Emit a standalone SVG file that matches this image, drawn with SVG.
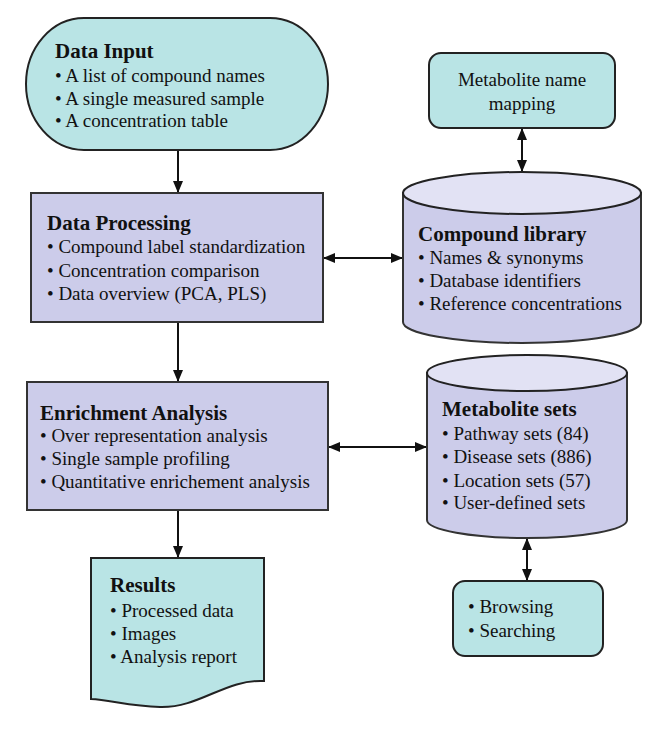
<svg xmlns="http://www.w3.org/2000/svg" width="646" height="730" viewBox="0 0 646 730">
<style>
text{font-family:"Liberation Serif","Times New Roman",serif;font-size:19px;fill:#111}
.b{font-weight:bold;font-size:21px}
.teal{fill:#b9e4e5;stroke:#222;stroke-width:2}
.lav{fill:#ccccea;stroke:#333;stroke-width:2}
.top{fill:#e2e2f4;stroke:#222;stroke-width:2}
.c{stroke:#111;stroke-width:2;fill:none}
</style>
<defs>
<marker id="ah" viewBox="0 0 12 10" refX="11" refY="5" markerWidth="12" markerHeight="10" markerUnits="userSpaceOnUse" orient="auto-start-reverse">
<path d="M0,0 L12,5 L0,10 Z" fill="#111"/>
</marker>
</defs>
<rect width="646" height="730" fill="#fff"/>
<g id="connectors">
<line class="c" x1="178" y1="151" x2="178" y2="192" marker-end="url(#ah)"/>
<line class="c" x1="178" y1="323" x2="178" y2="381" marker-end="url(#ah)"/>
<line class="c" x1="178" y1="511" x2="178" y2="557" marker-end="url(#ah)"/>
<line class="c" x1="522" y1="129" x2="522" y2="171" marker-start="url(#ah)" marker-end="url(#ah)"/>
<line class="c" x1="324" y1="258" x2="402" y2="258" marker-start="url(#ah)" marker-end="url(#ah)"/>
<line class="c" x1="329" y1="447" x2="426" y2="447" marker-start="url(#ah)" marker-end="url(#ah)"/>
<line class="c" x1="527" y1="539" x2="527" y2="580" marker-start="url(#ah)" marker-end="url(#ah)"/>
</g>
<g id="data-input">
<rect class="teal" x="26" y="18" width="302" height="132" rx="58" ry="66"/>
<text class="b" x="55" y="58">Data Input</text>
<text x="55" y="82">• A list of compound names</text>
<text x="55" y="105">• A single measured sample</text>
<text x="55" y="127">• A concentration table</text>
</g>
<g id="data-processing">
<rect class="lav" x="31" y="193" width="292" height="129"/>
<text class="b" x="47" y="230">Data Processing</text>
<text x="47" y="253">• Compound label standardization</text>
<text x="47" y="277">• Concentration comparison</text>
<text x="47" y="300">• Data overview (PCA, PLS)</text>
</g>
<g id="enrichment-analysis">
<rect class="lav" x="27" y="382" width="301" height="128"/>
<text class="b" x="40" y="420">Enrichment Analysis</text>
<text x="40" y="442">• Over representation analysis</text>
<text x="40" y="465">• Single sample profiling</text>
<text x="40" y="488">• Quantitative enrichement analysis</text>
</g>
<g id="results">
<path class="teal" d="M91,558 H264 V681 C225,679 200,708 160,707 C130,706 110,700 91,699 Z"/>
<text class="b" x="110" y="592">Results</text>
<text x="110" y="617">• Processed data</text>
<text x="110" y="640">• Images</text>
<text x="110" y="663">• Analysis report</text>
</g>
<g id="metabolite-name-mapping">
<rect class="teal" x="429" y="53" width="186" height="75" rx="12"/>
<text x="522" y="86" text-anchor="middle">Metabolite name</text>
<text x="522" y="110" text-anchor="middle">mapping</text>
</g>
<g id="compound-library">
<path class="lav" d="M403,193 V322 A119,21 0 0 0 641,322 V193 Z"/>
<ellipse class="top" cx="522" cy="193" rx="119" ry="21"/>
<text class="b" x="418" y="241">Compound library</text>
<text x="418" y="264">• Names &amp; synonyms</text>
<text x="418" y="287">• Database  identifiers</text>
<text x="418" y="310">• Reference concentrations</text>
</g>
<g id="metabolite-sets">
<path class="lav" d="M427,373 V520 A100,18 0 0 0 627,520 V373 Z"/>
<ellipse class="top" cx="527" cy="373" rx="100" ry="18"/>
<text class="b" x="442" y="416">Metabolite sets</text>
<text x="442" y="440">• Pathway sets (84)</text>
<text x="442" y="463">• Disease sets (886)</text>
<text x="442" y="487">• Location sets (57)</text>
<text x="442" y="509">• User-defined sets</text>
</g>
<g id="browsing-searching">
<rect class="teal" x="453" y="581" width="150" height="75" rx="12"/>
<text x="468" y="613">• Browsing</text>
<text x="468" y="637">• Searching</text>
</g>
</svg>
